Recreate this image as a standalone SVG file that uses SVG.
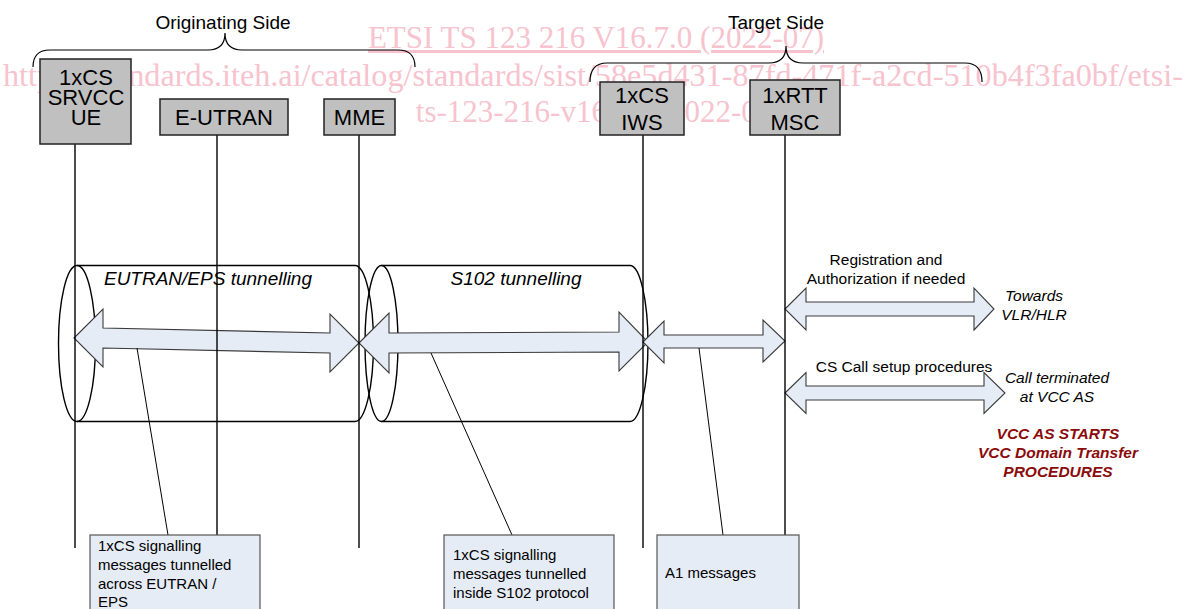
<svg xmlns="http://www.w3.org/2000/svg" width="1189" height="609" viewBox="0 0 1189 609">
<style>
.wm{font-family:"Liberation Serif","Times New Roman",serif;font-size:31px;fill:#F7C3CE}
.t{font-family:"Liberation Sans",Arial,sans-serif;fill:#000}
.hdr{font-size:19px}
.node rect{fill:#C0C0C0;stroke:#222;stroke-width:1.5}
.node text{font-size:22px;text-anchor:middle}
.note rect{fill:#E6ECF6;stroke:#555;stroke-width:1.2}
.note text{font-size:15px}
.cyl{fill:none;stroke:#000;stroke-width:1.4}
.arr{fill:#E6ECF6;stroke:#3a3a3a;stroke-width:1.1}
.life{stroke:#000;stroke-width:1.4;fill:none}
.call{stroke:#000;stroke-width:1;fill:none}
.brace{fill:none;stroke:#000;stroke-width:1.2}
.lbl{font-size:15.5px;text-anchor:middle}
.it{font-style:italic}
.red{font-family:"Liberation Sans",Arial,sans-serif;font-size:15.5px;font-weight:bold;font-style:italic;fill:#8B0A0A;text-anchor:middle}
</style>

<g id="watermark">
<text class="wm" x="596" y="48" text-anchor="middle" text-decoration="underline">ETSI TS 123 216 V16.7.0 (2022-07)</text>
<text class="wm" x="3" y="86" textLength="1180" lengthAdjust="spacingAndGlyphs">https://standards.iteh.ai/catalog/standards/sist/58e5d431-87fd-471f-a2cd-510b4f3fa0bf/etsi-</text>
<text class="wm" x="594" y="122" text-anchor="middle">ts-123-216-v16-7-0-2022-07</text>
</g>

<g id="headers">
<path class="brace" d="M33,67 Q33,50 50,50 L208,50 Q225,50 225,33 Q225,50 242,50 L398,50 Q415,50 415,67"/>
<text class="t hdr" x="223" y="29" text-anchor="middle">Originating Side</text>
<path class="brace" d="M590,82 Q590,63 607,63 L769,63 Q786,63 786,46 Q786,63 803,63 L965,63 Q982,63 982,82"/>
<text class="t hdr" x="776" y="29" text-anchor="middle">Target Side</text>
</g>

<g id="tunnels">
<ellipse class="cyl" cx="77" cy="343.5" rx="18.5" ry="78"/>
<path class="cyl" d="M77,265.5 L355,265.5 A18.5,78 0 0 1 355,421.5 L77,421.5"/>
<text class="t it" x="208" y="285" font-size="19" text-anchor="middle">EUTRAN/EPS tunnelling</text>
<ellipse class="cyl" cx="381.5" cy="343.5" rx="16.5" ry="78"/>
<path class="cyl" d="M381.5,265.5 L630,265.5 A18,78 0 0 1 630,421.5 L381.5,421.5"/>
<text class="t it" x="516" y="285" font-size="19" text-anchor="middle">S102 tunnelling</text>
</g>

<g id="connectors">
<polygon class="arr" points="74,338 103,309 103,328 330,333 330,314 359,343 330,372 330,353 103,348 103,367"/>
<polygon class="arr" points="359,343 389,313 389,333 619,332 619,312 648,342 619,371 619,352 389,353 389,373"/>
<polygon class="arr" points="643,342 664,321 664,335 763,335 763,320 785,341 763,362 763,348 664,348 664,363"/>
<polygon class="arr" points="785,309 806,288 806,302 974,302 974,288 994,309 974,330 974,316 806,316 806,330"/>
<polygon class="arr" points="785,393 806,372.5 806,386 984,386 984,372.5 1005,393 984,413.5 984,400 806,400 806,413.5"/>
<line class="life" x1="75" y1="144" x2="75" y2="548"/>
<line class="life" x1="217" y1="135" x2="217" y2="535"/>
<line class="life" x1="359" y1="135" x2="359" y2="548"/>
<line class="life" x1="643" y1="135" x2="643" y2="548"/>
<line class="life" x1="785" y1="135" x2="785" y2="535"/>
<line class="call" x1="137" y1="348" x2="168" y2="535"/>
<line class="call" x1="431" y1="353" x2="512" y2="535"/>
<line class="call" x1="699" y1="348" x2="723" y2="535"/>
</g>

<g id="node-ue" class="node t">
<rect x="40" y="59" width="91" height="85"/>
<text x="86" y="85" font-size="20">1xCS</text>
<text x="86" y="105" font-size="20">SRVCC</text>
<text x="86" y="125" font-size="20">UE</text>
</g>
<g id="node-eutran" class="node t">
<rect x="160" y="99" width="128" height="36"/>
<text x="224" y="125">E-UTRAN</text>
</g>
<g id="node-mme" class="node t">
<rect x="324" y="99" width="71" height="36"/>
<text x="359.5" y="125">MME</text>
</g>
<g id="node-iws" class="node t">
<rect x="600" y="82" width="84" height="53"/>
<text x="642" y="103">1xCS</text>
<text x="642" y="130">IWS</text>
</g>
<g id="node-msc" class="node t">
<rect x="750" y="80" width="90" height="55"/>
<text x="795" y="103">1xRTT</text>
<text x="795" y="130">MSC</text>
</g>

<g id="note-eutran" class="note t">
<rect x="90" y="535" width="170" height="80"/>
<text x="98" y="551">1xCS signalling</text>
<text x="98" y="570">messages tunnelled</text>
<text x="98" y="589">across EUTRAN /</text>
<text x="98" y="607">EPS</text>
</g>
<g id="note-s102" class="note t">
<rect x="444" y="535" width="170" height="80"/>
<text x="453" y="560">1xCS signalling</text>
<text x="453" y="579">messages tunnelled</text>
<text x="453" y="598">inside S102 protocol</text>
</g>
<g id="note-a1" class="note t">
<rect x="657" y="535" width="142" height="80"/>
<text x="665" y="578">A1 messages</text>
</g>

<g id="labels">
<text class="t lbl" x="886" y="265">Registration and</text>
<text class="t lbl" x="886" y="284">Authorization if needed</text>
<text class="t lbl it" x="1034" y="301">Towards</text>
<text class="t lbl it" x="1034" y="320">VLR/HLR</text>
<text class="t lbl" x="904" y="372">CS Call setup procedures</text>
<text class="t lbl it" x="1057" y="383">Call terminated</text>
<text class="t lbl it" x="1057" y="402">at VCC AS</text>
<text class="red" x="1058" y="439">VCC AS STARTS</text>
<text class="red" x="1058" y="458">VCC Domain Transfer</text>
<text class="red" x="1058" y="477">PROCEDURES</text>
</g>
</svg>
